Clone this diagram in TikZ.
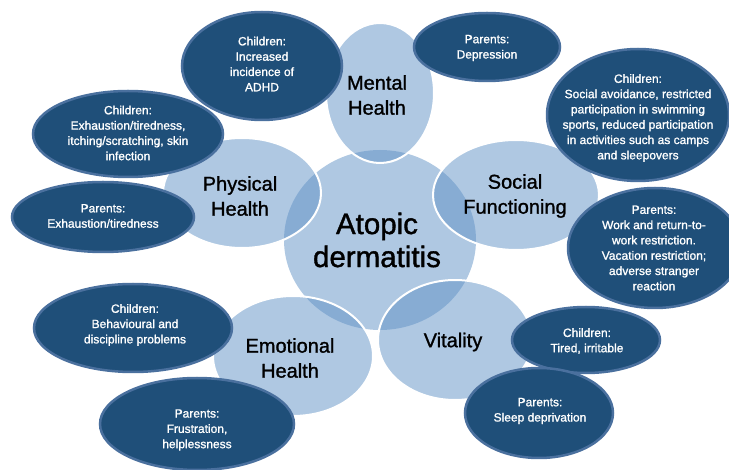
\documentclass[tikz,border=0pt]{standalone}
\usepackage{fontspec}
\setmainfont{Liberation Sans}[FakeBold=1.2]
\usetikzlibrary{shapes.geometric}
\definecolor{areablue}{RGB}{95,145,197}
\definecolor{bubblefill}{RGB}{31,79,121}
\definecolor{bubbleedge}{RGB}{74,112,158}

\begin{document}
\begin{tikzpicture}[
    x=1pt, y=-1pt,
    area/.style={
        ellipse, inner sep=0pt,
        fill=areablue, fill opacity=0.5,
        draw=white, line width=2pt
    },
    core/.style={area, draw=none},
    bubble/.style={
        ellipse, inner sep=0pt,
        fill=bubblefill,
        draw=bubbleedge, line width=2.5pt
    },
    arealabel/.style={align=center, font=\fontsize{20}{25}\selectfont},
    corelabel/.style={align=center, font=\fontsize{29.5}{33}\selectfont},
    bubblelabel/.style={align=center, text=white, font=\fontsize{12}{15.3}\selectfont}
]

\clip (0,0) rectangle (729,470);

% Centre

\node[core, minimum width=192pt, minimum height=180pt] (core) at (380,240) {};


% Areas

\node[area, minimum width=108pt, minimum height=140pt] (mental) at (380,93) {};
\node[area, minimum width=166pt, minimum height=110pt] (social) at (516,195) {};
\node[area, minimum width=158pt, minimum height=110pt] (physical) at (242,193) {};
\node[area, minimum width=160pt, minimum height=120pt] (emotional) at (293,356) {};
\node[area, minimum width=154pt, minimum height=120pt] (vitality) at (455,340) {};


% Children / parents

\node[bubble, minimum width=160pt, minimum height=108pt] (kidsmental) at (262,66) {};
\node[bubble, minimum width=146pt, minimum height=68pt] (parentsmental) at (487,47) {};
\node[bubble, minimum width=182pt, minimum height=132pt] (kidssocial) at (638,115) {};
\node[bubble, minimum width=174pt, minimum height=120pt] (parentssocial) at (655,248) {};
\node[bubble, minimum width=190pt, minimum height=86pt] (kidsphysical) at (128,134) {};
\node[bubble, minimum width=182pt, minimum height=70pt] (parentsphysical) at (103,217) {};
\node[bubble, minimum width=198pt, minimum height=88pt] (kidsemotional) at (133,328) {};
\node[bubble, minimum width=194pt, minimum height=92pt] (parentsemotional) at (197,424) {};
\node[bubble, minimum width=148pt, minimum height=66pt] (kidsvitality) at (586,340) {};
\node[bubble, minimum width=148pt, minimum height=90pt] (parentsvitality) at (539,413) {};


% Labels

\node[corelabel] (corelbl) at (377,240) {Atopic\\dermatitis};

\node[arealabel] (mentallbl) at (377,95) {Mental\\Health};
\node[arealabel] (sociallbl) at (515,196) {Social\\Functioning};
\node[arealabel] (physicallbl) at (240,196) {Physical\\Health};
\node[arealabel] (emotionallbl) at (290,358) {Emotional\\Health};
\node[arealabel] (vitalitylbl) at (453,342) {Vitality};

\node[bubblelabel] (kidsmentallbl) at (262,64)
    {Children:\\Increased\\incidence of\\ADHD};
\node[bubblelabel] (parentsmentallbl) at (487,48)
    {Parents:\\Depression};
\node[bubblelabel] (kidssociallbl) at (638,118)
    {Children:\\Social avoidance, restricted\\participation in swimming\\sports, reduced participation\\in activities such as camps\\and sleepovers};
\node[bubblelabel] (parentssociallbl) at (654,248)
    {Parents:\\Work and return-to-\\work restriction.\\Vacation restriction;\\adverse stranger\\reaction};
\node[bubblelabel] (kidsphysicallbl) at (128,133)
    {Children:\\Exhaustion/tiredness,\\itching/scratching, skin\\infection};
\node[bubblelabel] (parentsphysicallbl) at (103,216)
    {Parents:\\Exhaustion/tiredness};
\node[bubblelabel] (kidsemotionallbl) at (135,325)
    {Children:\\Behavioural and\\discipline problems};
\node[bubblelabel] (parentsemotionallbl) at (197,430)
    {Parents:\\Frustration,\\helplessness};
\node[bubblelabel] (kidsvitalitylbl) at (587,341)
    {Children:\\Tired, irritable};
\node[bubblelabel] (parentsvitalitylbl) at (540,411)
    {Parents:\\Sleep deprivation};

\end{tikzpicture}
\end{document}
